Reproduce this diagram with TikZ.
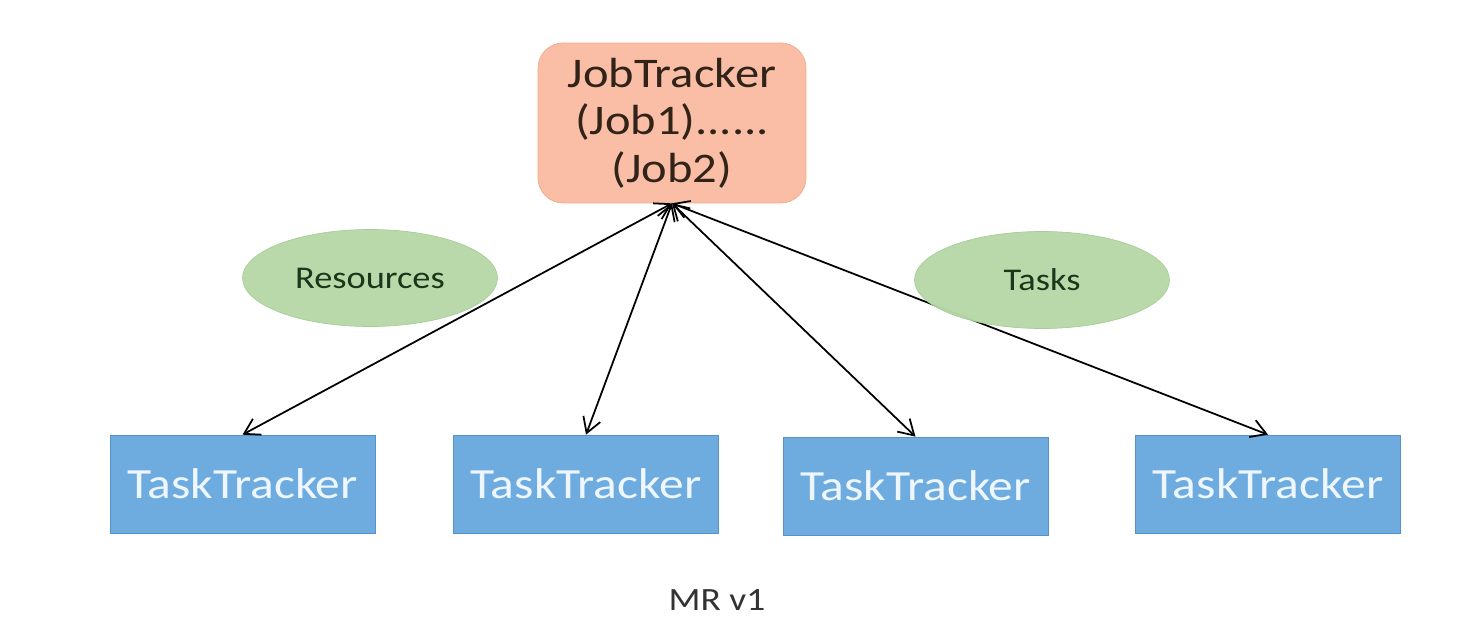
\documentclass[tikz,border=0pt]{standalone}
\usepackage{fontspec}
\setmainfont[FakeStretch=1.15]{Carlito}
\usetikzlibrary{positioning, arrows.meta, shapes.geometric}

\definecolor{jobfill}{RGB}{249,190,165}
\definecolor{jobdraw}{RGB}{240,170,140}
\definecolor{jobtext}{RGB}{50,35,25}
\definecolor{taskfill}{RGB}{110,172,224}
\definecolor{taskdraw}{RGB}{85,145,205}
\definecolor{tasktext}{RGB}{238,246,255}
\definecolor{ovalfill}{RGB}{184,216,168}
\definecolor{ovaldraw}{RGB}{165,205,150}
\definecolor{ovaltext}{RGB}{25,55,25}

\begin{document}
\begin{tikzpicture}[
    x=0.02cm, y=-0.02cm,
    jobtracker/.style={rectangle, draw=jobdraw, fill=jobfill, rounded corners=0.5cm, minimum width=5.36cm, minimum height=3.2cm, text=jobtext, align=center, font=\fontsize{24}{27}\selectfont},
    tracker/.style={rectangle, draw=taskdraw, fill=taskfill, minimum width=5.3cm, minimum height=1.96cm, text=tasktext, font=\fontsize{24.5}{28}\selectfont},
    oval/.style={ellipse, draw=ovaldraw, fill=ovalfill, fill opacity=0.97, text opacity=1, minimum width=5.1cm, minimum height=1.94cm, inner sep=0pt, text=ovaltext, font=\fontsize{18}{21}\selectfont},
    link/.style={{Straight Barb[length=3mm, width=3.6mm]}-{Straight Barb[length=3mm, width=3.6mm]}, line width=1pt, black}
]
\useasboundingbox (0,0) rectangle (1480,630);

% JobTracker on top
\node[jobtracker] (jt) at (672,123) {JobTracker\\(Job1)......\\(Job2)};

% TaskTrackers in a row
\node[tracker] (tt1) at (242.5,484) {TaskTracker};
\node[tracker] (tt2) at (586,484) {TaskTracker};
\node[tracker] (tt3) at (915.5,486) {TaskTracker};
\node[tracker] (tt4) at (1268,484) {TaskTracker};

% Links between JobTracker and TaskTrackers
\foreach \i in {1,...,4}
{
    \draw[link] (jt.south) -- (tt\i.north);
}

% Labels on the links
\node[oval] (res) at (370,278) {Resources};
\node[oval] (tasks) at (1042,280) {Tasks};

% Caption
\node[text=black!80, font=\fontsize{18.5}{22}\selectfont] (caption) at (717,600) {MR v1};

\end{tikzpicture}
\end{document}
